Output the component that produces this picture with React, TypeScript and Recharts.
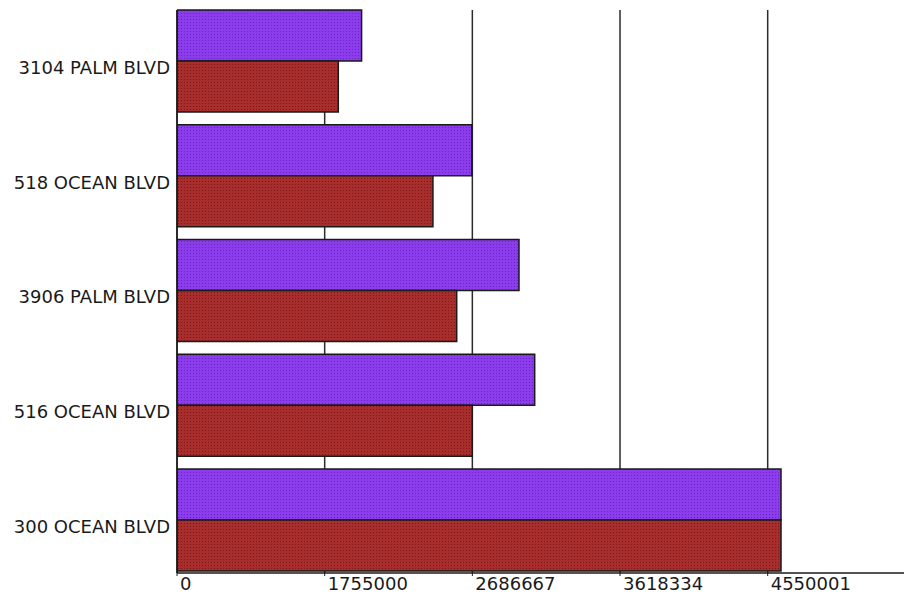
import { BarChart, Bar, XAxis, YAxis, CartesianGrid } from "recharts";

const categories = [
  "3104 PALM BLVD",
  "518 OCEAN BLVD",
  "3906 PALM BLVD",
  "516 OCEAN BLVD",
  "300 OCEAN BLVD",
];
const purpleValues = [1988000, 2683000, 2981000, 3080000, 4634000];
const redValues = [1841000, 2438000, 2588000, 2686000, 4634000];

const tickValues = [823333, 1755000, 2686667, 3618334, 4550001];
const tickLabels = ["0", "1755000", "2686667", "3618334", "4550001"];
const domainMin = 823333;
const domainMax = 5422600;

const data = categories.map((name, i) => ({
  name,
  purple: purpleValues[i],
  red: redValues[i],
}));

const C = {
  ink: "#1a1a1a",
  grid: "#2b2b2b",
  purple: "#8b3dec",
  purpleDot: "#6c22c8",
  red: "#a82e2e",
  redDot: "#7e1818",
  font: "'DejaVu Sans', Verdana, sans-serif",
} as const;

function XTick({ x, y, payload }: { x?: number; y?: number; payload?: { value: number } }) {
  const i = tickValues.indexOf(payload?.value as number);
  return (
    <text x={(x ?? 0) + 3} y={(y ?? 0) + 12} textAnchor="start"
      fontFamily={C.font} fontSize={18} fill={C.ink}>
      {i >= 0 ? tickLabels[i] : ""}
    </text>
  );
}

function YTick({ x, y, payload }: { x?: number; y?: number; payload?: { value: string } }) {
  return (
    <text x={x} y={(y ?? 0) + 7} dy="0.355em" textAnchor="end"
      fontFamily={C.font} fontSize={18} fill={C.ink}>
      {payload?.value}
    </text>
  );
}

export default function App() {
  return (
    <div style={{ position: "absolute", left: 0, top: 0, width: 904, height: 595, overflow: "hidden", background: "#fff" }}>
      <BarChart
        width={906}
        height={595}
        data={data}
        layout="vertical"
        margin={{ top: 10, right: 0, bottom: 0, left: 0 }}
        barCategoryGap={6.875}
        barGap={0}
      >
        <defs>
          <pattern id="dotPurple" width={3} height={3} patternUnits="userSpaceOnUse">
            <rect width={3} height={3} fill={C.purple} />
            <rect x={1} y={1} width={1} height={1} fill={C.purpleDot} />
          </pattern>
          <pattern id="dotRed" width={3} height={3} patternUnits="userSpaceOnUse">
            <rect width={3} height={3} fill={C.red} />
            <rect x={1} y={1} width={1} height={1} fill={C.redDot} />
          </pattern>
        </defs>
        <CartesianGrid horizontal={false} stroke={C.grid} strokeWidth={1.5} />
        <XAxis
          type="number"
          domain={[domainMin, domainMax]}
          ticks={tickValues}
          allowDataOverflow
          height={22}
          tick={<XTick />}
          tickSize={3}
          tickMargin={2}
          tickLine={{ stroke: C.ink }}
          axisLine={{ stroke: C.ink, strokeWidth: 1.5 }}
        />
        <XAxis
          xAxisId="top"
          orientation="top"
          type="number"
          domain={[domainMin, domainMax]}
          height={0}
          tick={false}
          tickLine={false}
          axisLine={{ stroke: C.ink, strokeWidth: 1.5 }}
        />
        <YAxis
          type="category"
          dataKey="name"
          width={177}
          padding={{ top: -6.875, bottom: -3.875 }}
          tick={<YTick />}
          tickSize={0}
          tickMargin={7}
          tickLine={false}
          axisLine={{ stroke: C.ink, strokeWidth: 1.5 }}
        />
        <Bar dataKey="purple" fill="url(#dotPurple)" stroke={C.ink} strokeWidth={1.5} isAnimationActive={false} />
        <Bar dataKey="red" fill="url(#dotRed)" stroke={C.ink} strokeWidth={1.5} isAnimationActive={false} />
      </BarChart>
    </div>
  );
}
